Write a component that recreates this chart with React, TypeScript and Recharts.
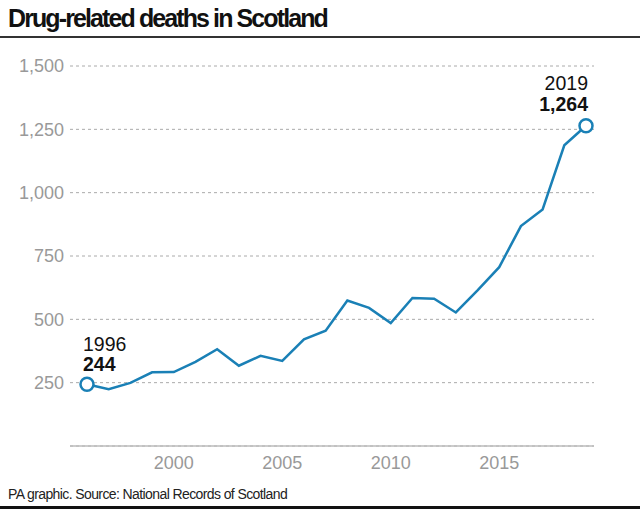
import React from "react";
import {
  CartesianGrid,
  LabelList,
  Line,
  LineChart,
  XAxis,
  YAxis,
} from "recharts";

const YEARS = [
  1996, 1997, 1998, 1999, 2000, 2001, 2002, 2003, 2004, 2005, 2006, 2007,
  2008, 2009, 2010, 2011, 2012, 2013, 2014, 2015, 2016, 2017, 2018, 2019,
];
const DEATHS = [
  244, 224, 249, 291, 292, 332, 382, 317, 356, 336, 421, 455, 574, 545, 485,
  584, 581, 527, 614, 706, 868, 934, 1187, 1264,
];
const X_TICKS = [2000, 2005, 2010, 2015];
const Y_TICKS = [250, 500, 750, 1000, 1250, 1500];

const BLUE = "#1a80b6";
const FONT = "'Liberation Sans', Arial, Helvetica, sans-serif";

const data = YEARS.map((year, i) => ({ year, deaths: DEATHS[i] }));
const last = data.length - 1;

function EndDot(props: any) {
  const { cx, cy, index } = props;
  if (index !== 0 && index !== last) return null;
  return (
    <circle cx={cx} cy={cy} r={6.5} fill="#fff" stroke={BLUE} strokeWidth={2.5} />
  );
}

function EndLabel(props: any) {
  const { x, y, index, value } = props;
  if (index !== 0 && index !== last) return null;
  const isFirst = index === 0;
  const anchor = isFirst ? "start" : "end";
  const tx = isFirst ? x - 4 : x + 2;
  const year = YEARS[index];
  return (
    <g fontFamily={FONT} fontSize={19.5} fill="#111">
      <text x={tx} y={y - (isFirst ? 33 : 36)} textAnchor={anchor}>
        {year}
      </text>
      <text
        x={tx}
        y={y - (isFirst ? 13 : 15)}
        textAnchor={anchor}
        fontWeight="bold"
      >
        {Number(value).toLocaleString("en-GB")}
      </text>
    </g>
  );
}

export default function App() {
  return (
    <div
      style={{
        position: "absolute",
        left: 0,
        top: 0,
        width: 640,
        height: 513,
        background: "#fff",
        fontFamily: FONT,
        overflow: "hidden",
      }}
    >
      <div
        style={{
          position: "absolute",
          left: 8,
          top: 6,
          fontSize: 25,
          lineHeight: 1,
          fontWeight: "bold",
          letterSpacing: -1.9,
          color: "#111",
          whiteSpace: "nowrap",
        }}
      >
        Drug-related deaths in Scotland
      </div>
      <div
        style={{
          position: "absolute",
          left: 0,
          top: 36,
          width: 640,
          height: 2,
          background: "#333",
        }}
      />
      <div style={{ position: "absolute", left: 0, top: 0 }}>
        <LineChart
          width={640}
          height={513}
          data={data}
          margin={{ top: 66, right: 46, bottom: 37, left: 10 }}
        >
          <CartesianGrid
            vertical={false}
            stroke="#aaa"
            strokeDasharray="3 3"
            strokeWidth={1}
          />
          <XAxis
            dataKey="year"
            type="number"
            domain={[1996, 2019]}
            ticks={X_TICKS}
            padding={{ left: 17, right: 8 }}
            axisLine={{ stroke: "#bbb", strokeWidth: 1.5 }}
            tickLine={false}
            tickMargin={4}
            height={30}
            tick={{ fill: "#999", fontSize: 18, fontFamily: FONT }}
          />
          <YAxis
            domain={[0, 1500]}
            ticks={Y_TICKS}
            width={60}
            axisLine={false}
            tickLine={false}
            tickMargin={0}
            tickFormatter={(v: number) => v.toLocaleString("en-GB")}
            tick={{ fill: "#999", fontSize: 18, fontFamily: FONT }}
          />
          <Line
            type="linear"
            dataKey="deaths"
            stroke={BLUE}
            strokeWidth={2.5}
            dot={<EndDot />}
            activeDot={false}
            isAnimationActive={false}
          >
            <LabelList dataKey="deaths" content={<EndLabel />} />
          </Line>
        </LineChart>
      </div>
      <div
        style={{
          position: "absolute",
          left: 8,
          top: 487,
          fontSize: 14,
          lineHeight: 1,
          letterSpacing: -0.6,
          color: "#222",
          whiteSpace: "nowrap",
        }}
      >
        PA graphic. Source: National Records of Scotland
      </div>
      <div
        style={{
          position: "absolute",
          left: 0,
          top: 506,
          width: 640,
          height: 3,
          background: "#111",
        }}
      />
    </div>
  );
}
